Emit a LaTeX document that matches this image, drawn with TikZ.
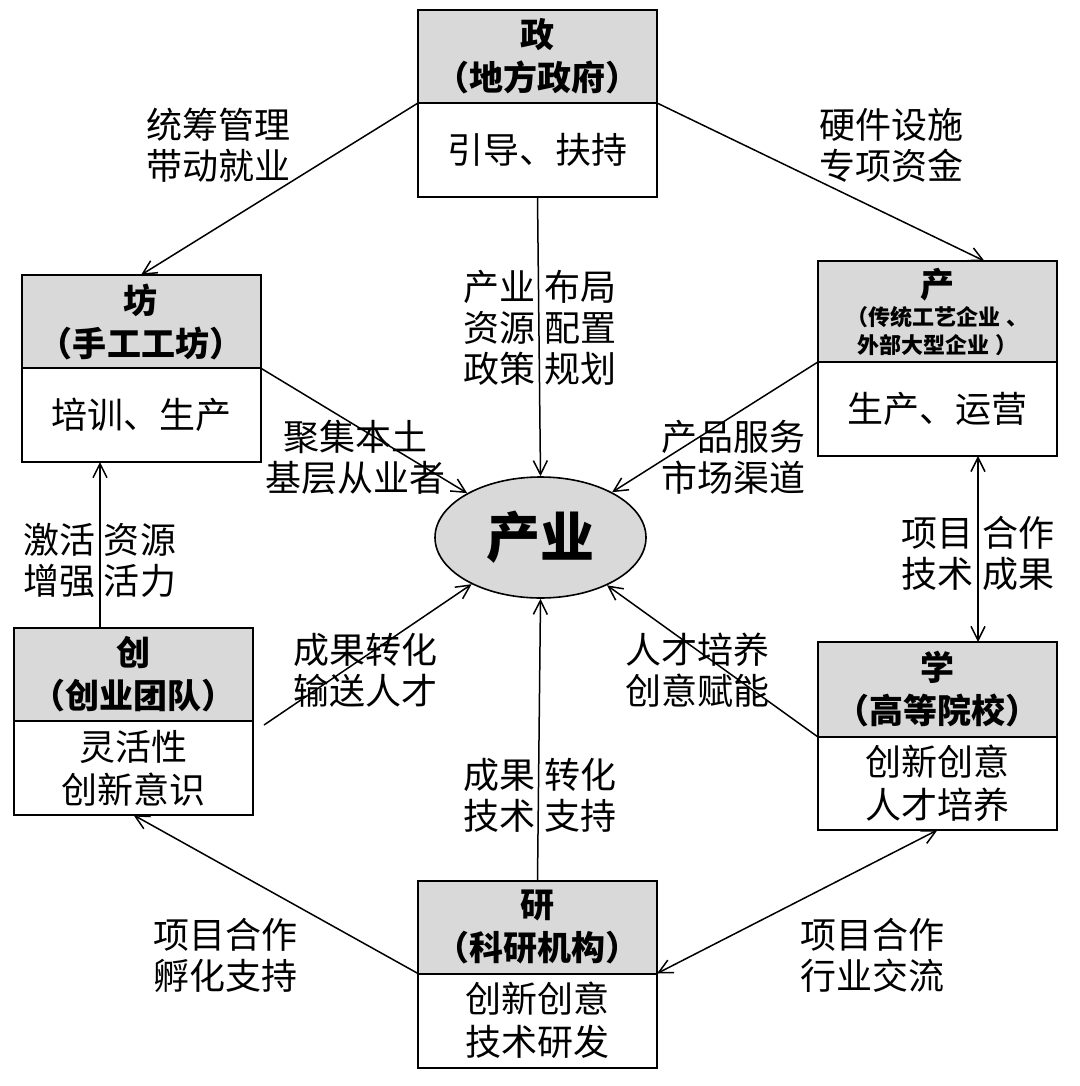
\documentclass[tikz,border=0pt]{standalone}
\usepackage{fontspec}
\setmainfont{Noto Sans CJK SC}
\usetikzlibrary{positioning,shapes.geometric,arrows.meta}
\tikzset{
  boxhead/.style={draw,fill=gray!30,line width=1pt,outer sep=0pt,minimum width=119.5pt,minimum height=46.5pt,align=center,font=\bfseries\fontsize{17}{21.5}\selectfont},
  boxbody/.style={draw,fill=white,line width=1pt,outer sep=0pt,minimum width=119.5pt,minimum height=47pt,align=center,font=\fontsize{18}{21.5}\selectfont},
  lbl/.style={align=center,font=\fontsize{18}{20.5}\selectfont},
  link/.style={line width=0.75pt},
}
\begin{document}
\begin{tikzpicture}[x=0.5pt,y=-0.5pt,>={Straight Barb[length=7pt,width=7pt]}]
\useasboundingbox (0,0) rectangle (1080,1086);
\node[boxhead] (zhengT) at (537.5,56.5) {政\\（地方政府）};
\node[boxbody,below=0pt of zhengT] (zhengB) {引导、扶持};
\node[boxhead] (fangT) at (141,321.5) {坊\\（手工工坊）};
\node[boxbody,below=0pt of fangT] (fangB) {培训、生产};
\node[boxhead,font=\bfseries\fontsize{11}{14}\selectfont] (chanT) at (937.5,311.5) {{\fontsize{17}{20}\selectfont 产}\\（传统工艺企业 、\\外部大型企业 ）};
\node[boxbody,below=0pt of chanT] (chanB) {生产、运营};
\node[boxhead] (chuangT) at (133.5,674.5) {创\\（创业团队）};
\node[boxbody,below=0pt of chuangT] (chuangB) {灵活性\\创新意识};
\node[boxhead,minimum height=47.5pt] (xueT) at (937.5,689.5) {学\\（高等院校）};
\node[boxbody,minimum height=46.5pt,below=0pt of xueT] (xueB) {创新创意\\人才培养};
\node[boxhead] (yanT) at (537.5,927) {研\\（科研机构）};
\node[boxbody,below=0pt of yanT] (yanB) {创新创意\\技术研发};
\node[ellipse,draw,fill=gray!30,line width=0.8pt,minimum width=105.5pt,minimum height=60.5pt,font=\bfseries\fontsize{27}{30}\selectfont] (core) at (540.5,537.5) {产业};

\node[lbl] (mgmt) at (218,145) {统筹管理\\带动就业};
\node[lbl] (hardware) at (891,145) {硬件设施\\专项资金};
\node[lbl] (policy) at (540,328) {产业 布局\\资源 配置\\政策 规划};
\node[lbl] (gather) at (355,457) {聚集本土\\基层从业者};
\node[lbl] (market) at (733,457) {产品服务\\市场渠道};
\node[lbl] (activate) at (100,560) {激活 资源\\增强 活力};
\node[lbl] (coop) at (978,553) {项目 合作\\技术 成果};
\node[lbl] (transfer) at (365,670) {成果转化\\输送人才};
\node[lbl] (talent) at (697,670) {人才培养\\创意赋能};
\node[lbl] (support) at (540,795) {成果 转化\\技术 支持};
\node[lbl] (incubate) at (225,955) {项目合作\\孵化支持};
\node[lbl] (exchange) at (872,955) {项目合作\\行业交流};

\draw[link,->] (zhengT.south west) -- (fangT.north);
\draw[link,->] (zhengT.south east) -- ([xshift=23.5pt]chanT.north);
\draw[link,->] (zhengB.south) -- (core.north);
\draw[link,->] (fangT.south east) -- (core);
\draw[link,->] (chanT.south west) -- (core);
\draw[link,->] ([xshift=-16.75pt]chuangT.north) -- ([xshift=-16.75pt]chuangT.north |- fangB.south);
\draw[link,<->] ([xshift=20.25pt]chanB.south) -- ([xshift=20.25pt]chanB.south |- xueT.north);
\draw[link,->] ([xshift=5.5pt,yshift=-2pt]chuangT.south east) -- (core);
\draw[link,->] (xueT.south west) -- (core);
\draw[link,->] (yanT.north) -- (core.south);
\draw[link,->] (yanT.south west) -- (chuangB.south);
\draw[link,<->] (yanT.south east) -- (xueB.south);
\end{tikzpicture}
\end{document}
